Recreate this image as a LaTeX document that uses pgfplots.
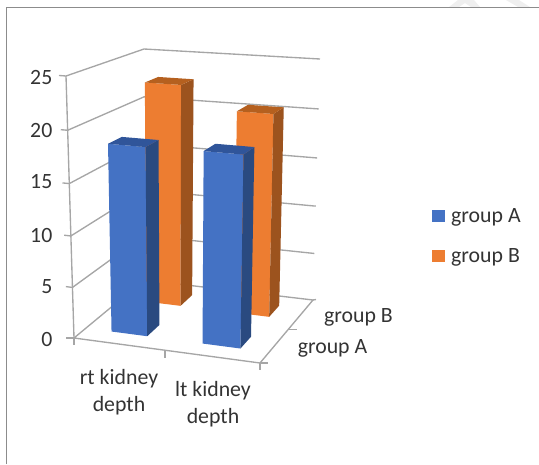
\documentclass[border=0pt]{standalone}
\usepackage{pgfplots}
\usepackage{fontspec}
\setmainfont{Carlito}
\pgfplotsset{compat=1.18}

\definecolor{gridgray}{HTML}{A6A6A6}
\definecolor{framegray}{HTML}{8C8C8C}
\definecolor{labelgray}{HTML}{333333}
\definecolor{paleMark}{HTML}{EFEFEF}
\definecolor{blueF}{HTML}{4472C4}
\definecolor{blueS}{HTML}{2A4A80}
\definecolor{blueT}{HTML}{30559A}
\definecolor{orangeF}{HTML}{ED7D31}
\definecolor{orangeS}{HTML}{9C531E}
\definecolor{orangeT}{HTML}{B5601F}

% Height on the value scale, slightly compressed towards the floor by the viewpoint
\pgfmathdeclarefunction{lift}{1}{%
  \begingroup
  \pgfmathparse{(#1/25)/(1+0.045*(1-#1/25))}%
  \pgfmathsmuggle\pgfmathresult
  \endgroup}
% Projection of the chart box (u across, v in depth, w = value 0..25) onto the page
\pgfmathdeclarefunction{projx}{3}{%
  \begingroup
  \pgfmathparse{(1-lift(#3))*((1-#2)*((1-#1)*74+#1*260)+#2*((1-#1)*144+#1*313))
               +lift(#3)*((1-#2)*((1-#1)*66+#1*266)+#2*((1-#1)*144+#1*320))}%
  \pgfmathsmuggle\pgfmathresult
  \endgroup}
\pgfmathdeclarefunction{projy}{3}{%
  \begingroup
  \pgfmathparse{(1-lift(#3))*((1-#2)*((1-#1)*338+#1*363)+#2*((1-#1)*280+#1*300))
               +lift(#3)*((1-#2)*((1-#1)*76+#1*91)+#2*((1-#1)*49+#1*59))}%
  \pgfmathsmuggle\pgfmathresult
  \endgroup}

\pgfplotsset{
  table/boxed/.style={
    x expr={projx(\thisrow{u},\thisrow{v},\thisrow{w})},
    y expr={projy(\thisrow{u},\thisrow{v},\thisrow{w})},
    row sep=\\},
  wall/.style={draw=gridgray,line width=1.35pt,forget plot},
}
\tikzset{lab/.style={text=labelgray,inner sep=0pt,font=\fontsize{21.8}{26.5}\selectfont}}

% One bar: u0 u1 v0 v1 value, colour stem
\newcommand{\cuboid}[6]{%
  \addplot[fill=#6F,draw=none,forget plot] table[boxed]{
    u v w\\ #1 #3 0\\ #2 #3 0\\ #2 #3 #5\\ #1 #3 #5\\ #1 #3 0\\ };
  \addplot[fill=#6S,draw=none,forget plot] table[boxed]{
    u v w\\ #2 #3 0\\ #2 #4 0\\ #2 #4 #5\\ #2 #3 #5\\ #2 #3 0\\ };
  \addplot[fill=#6T,draw=none,forget plot] table[boxed]{
    u v w\\ #1 #3 #5\\ #2 #3 #5\\ #2 #4 #5\\ #1 #4 #5\\ #1 #3 #5\\ };
}
% One gridline level across the left and back walls
\newcommand{\level}[1]{%
  \addplot[wall] table[boxed]{
    u v w\\ 0 0 #1\\ 0 1 #1\\ 1 1 #1\\ };
  \addplot[wall] table[boxed]{
    u v w\\ 0 0 #1\\ -0.035 0 #1\\ };
}

\begin{document}
\begin{tikzpicture}
\begin{axis}[
  width=539pt,height=464pt,scale only axis,
  xmin=0,xmax=539,ymin=0,ymax=464,y dir=reverse,
  hide axis,clip=false,
]
% Pale strokes in the top margin
\addplot[fill=paleMark,draw=none,forget plot] coordinates {(449,7) (458,0) (474,0) (480,7) (471,7) (465,3) (459,7)} -- cycle;
\addplot[fill=paleMark,draw=none,forget plot] coordinates {(506,0) (519,0) (530,7) (518,7)} -- cycle;
% Outer frame
\addplot[framegray,line width=0.9pt,forget plot] coordinates {(6.5,464) (6.5,7.5) (539,7.5)};

% Walls and floor
\level{5}\level{10}\level{15}\level{20}\level{25}
\addplot[wall] table[boxed]{
  u v w\\ 0 0 0\\ 1 0 0\\ 1 1 0\\ 0 1 0\\ 0 0 0\\ };
\addplot[wall] table[boxed]{
  u v w\\ 0 0 0\\ 0 0 25\\ };
% Floor ticks
\addplot[wall] coordinates {(74,338) (74,345)};
\addplot[wall] coordinates {(74,338) (66,338)};
\addplot[wall] coordinates {(165,351) (165,358)};
\addplot[wall] coordinates {(260,363) (260,370)};
\addplot[wall] coordinates {(260,363) (268,363)};
\addplot[wall] coordinates {(289,329.5) (297,329.5)};
\addplot[wall] coordinates {(313,300) (316,299.5)};

% Bars, rear row first
\cuboid{0.14}{0.338}{0.68}{0.86}{22.7}{orange}
\cuboid{0.645}{0.846}{0.68}{0.86}{20.5}{orange}
\cuboid{0.14}{0.335}{0.17}{0.36}{18.4}{blue}
\cuboid{0.637}{0.844}{0.17}{0.36}{18.5}{blue}

% Legend keys
\addplot[fill=blueF,draw=none,forget plot] coordinates {(432,210) (445,210) (445,222) (432,222)} -- cycle;
\addplot[fill=orangeF,draw=none,forget plot] coordinates {(432,250) (445,250) (445,262) (432,262)} -- cycle;

% Value labels
\node[lab,anchor=east] at (axis cs:52.5,77) {25};
\node[lab,anchor=east] at (axis cs:52.5,130) {20};
\node[lab,anchor=east] at (axis cs:52.5,182) {15};
\node[lab,anchor=east] at (axis cs:52.5,235) {10};
\node[lab,anchor=east] at (axis cs:52.5,287) {5};
\node[lab,anchor=east] at (axis cs:52.5,339) {0};
% Category labels
\node[lab,align=center] at (axis cs:119,392) {rt kidney\\depth};
\node[lab,align=center] at (axis cs:213,404) {lt kidney\\depth};
% Series labels on the depth axis
\node[lab] at (axis cs:358.5,317) {group B};
\node[lab] at (axis cs:332.5,348) {group A};
% Legend labels
\node[lab,anchor=west] at (axis cs:451,217) {group A};
\node[lab,anchor=west] at (axis cs:451,257) {group B};
\coordinate (pageSW) at (axis cs:0,464);
\coordinate (pageNE) at (axis cs:539,0);
\end{axis}
\pgfresetboundingbox
\path[use as bounding box] (pageSW) rectangle (pageNE);
\end{tikzpicture}
\end{document}
